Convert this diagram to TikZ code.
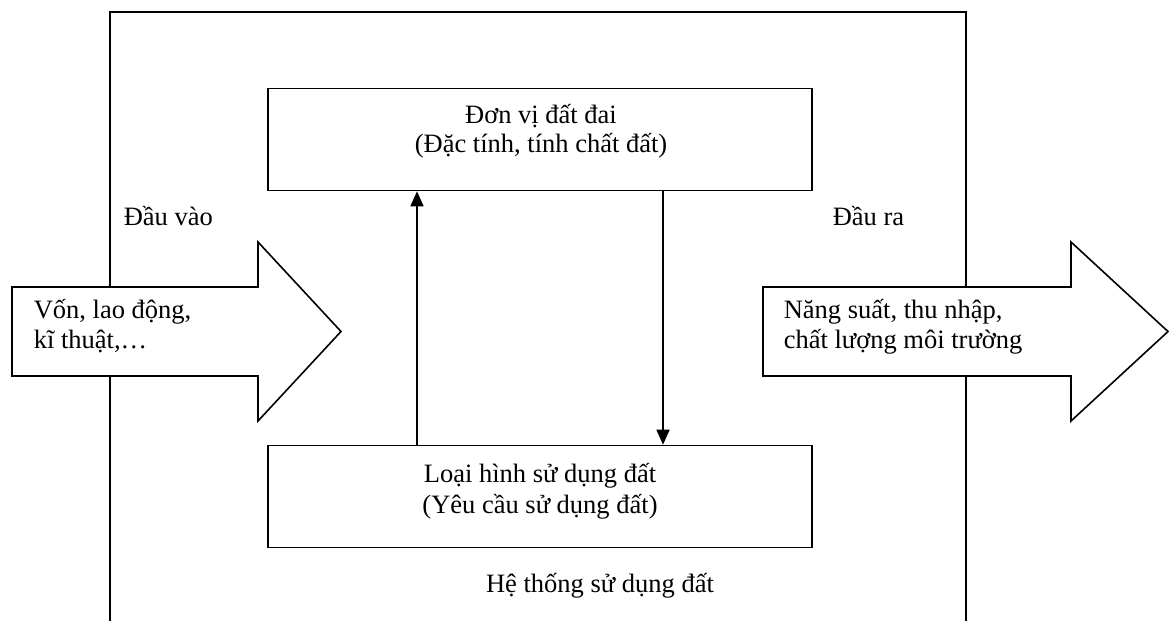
\documentclass[tikz,border=0pt]{standalone}
\usepackage{fontspec}
\setmainfont{Liberation Serif}
\usetikzlibrary{arrows.meta}
\begin{document}
\begin{tikzpicture}[x=1pt,y=-1pt, line width=1.6pt,
  lbl/.style={inner sep=0pt, font=\fontsize{26.5}{30.5}\selectfont},
  box/.style={draw, fill=white, minimum width=544pt, minimum height=102pt, inner sep=0pt},
  bigarrow/.style={draw, fill=white, line join=miter},
  conn/.style={-{Triangle[length=15pt,width=13pt]}}]
\useasboundingbox (0,0) rectangle (1170,621);
% outer frame (open at bottom)
\draw (110,630) -- (110,12) -- (966,12) -- (966,630);
% input / output block arrows
\draw[bigarrow] (12,287) -- (258,287) -- (258,242) -- (341,331.5) -- (258,421) -- (258,376) -- (12,376) -- cycle;
\draw[bigarrow] (763,287) -- (1071,287) -- (1071,242) -- (1168,331.5) -- (1071,421) -- (1071,376) -- (763,376) -- cycle;
% boxes
\node[box] (unit) at (540,139.5) {};
\node[box] (lut) at (540,496.5) {};
% texts
\node[lbl, anchor=base] (unit1) at (541,123) {Đơn vị đất đai};
\node[lbl, anchor=base] (unit2) at (541,152) {(Đặc tính, tính chất đất)};
\node[lbl, anchor=base] (lut1) at (540,482) {Loại hình sử dụng đất};
\node[lbl, anchor=base] (lut2) at (540,513) {(Yêu cầu sử dụng đất)};
\node[lbl, anchor=base west] (in) at (123,225) {Đầu vào};
\node[lbl, anchor=base west] (out) at (832,225) {Đầu ra};
\node[lbl, anchor=base] (sys) at (600,592) {Hệ thống sử dụng đất};
\node[lbl, anchor=base west] (in1) at (33,318) {Vốn, lao động,};
\node[lbl, anchor=base west] (in2) at (33,348) {kĩ thuật,…};
\node[lbl, anchor=base west] (out1) at (783,318) {Năng suất, thu nhập,};
\node[lbl, anchor=base west] (out2) at (783,348) {chất lượng môi trường};
% connectors
\coordinate (upx) at (417,300);
\coordinate (dnx) at (663,300);
\draw[conn] (lut.north -| upx) -- (unit.south -| upx);
\draw[conn] (unit.south -| dnx) -- (lut.north -| dnx);
\end{tikzpicture}
\end{document}
